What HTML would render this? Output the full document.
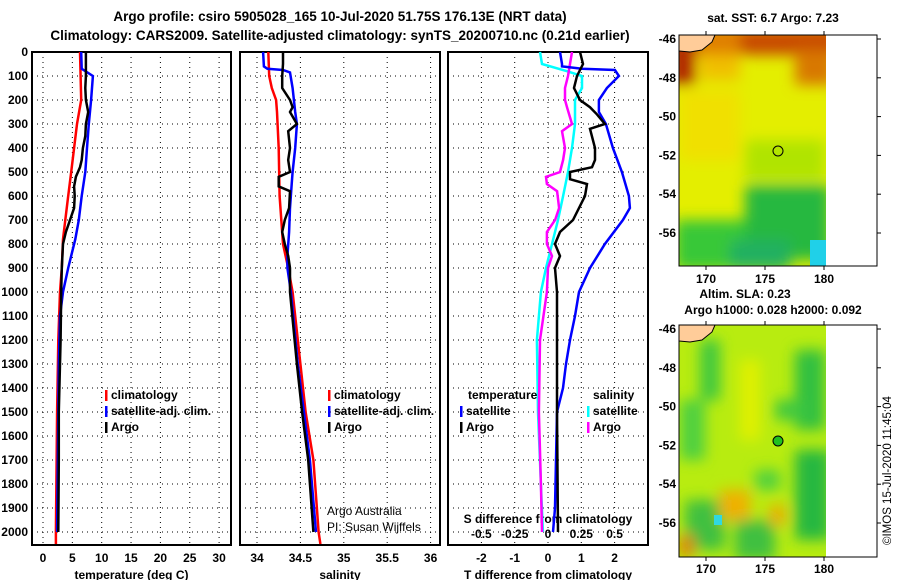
<!DOCTYPE html>
<html><head><meta charset="utf-8">
<style>
body{margin:0;background:#fff;}
svg{display:block;font-family:"Liberation Sans",sans-serif;}
.tk{font-size:12px;font-weight:bold;fill:#000;}
.tt{font-size:13.5px;font-weight:bold;fill:#000;}
</style></head>
<body>
<svg id="c" width="900" height="580" viewBox="0 0 900 580" xmlns="http://www.w3.org/2000/svg">
<defs>
<filter id="bl" x="-20%" y="-20%" width="140%" height="140%"><feGaussianBlur stdDeviation="7"/></filter>
<clipPath id="m1"><rect x="679" y="35" width="147" height="231"/></clipPath>
<clipPath id="m2"><rect x="679" y="325" width="147" height="232"/></clipPath>
</defs>
<text class="tt" x="340" y="21" text-anchor="middle">Argo profile: csiro 5905028_165 10-Jul-2020 51.75S 176.13E (NRT data)</text>
<text class="tt" x="340" y="40" text-anchor="middle">Climatology: CARS2009. Satellite-adjusted climatology: synTS_20200710.nc (0.21d earlier)</text>

<!-- top map -->
<g>
<text class="tk" x="773" y="22" text-anchor="middle">sat. SST: 6.7 Argo: 7.23</text>
<rect x="679" y="35" width="198" height="231" fill="#fff" stroke="#000" stroke-width="1"/>
<g clip-path="url(#m1)">
<rect x="679" y="35" width="147" height="231" fill="#e4ee00"/>
<g filter="url(#bl)">
<rect x="670" y="25" width="170" height="30" fill="#e08000"/>
<rect x="740" y="30" width="100" height="25" fill="#c84800"/>
<rect x="795" y="50" width="40" height="35" fill="#d87800"/>
<rect x="670" y="30" width="25" height="55" fill="#b02800"/>
<rect x="700" y="55" width="40" height="25" fill="#f0c000"/>
<rect x="680" y="90" width="60" height="70" fill="#f0e000"/>
<rect x="745" y="140" width="80" height="40" fill="#b0e400"/>
<rect x="745" y="185" width="85" height="75" fill="#28b840"/>
<rect x="675" y="220" width="70" height="50" fill="#38c838"/>
<rect x="730" y="240" width="60" height="30" fill="#20b060"/>
</g>
<rect x="810" y="240" width="20" height="30" fill="#20d0e8"/>
<path d="M679 35 H715 L712 42 L702 50 L690 52 L679 51 Z" fill="#ffcc99" stroke="#000" stroke-width="1"/>
</g>
<rect x="679" y="35" width="198" height="231" fill="none" stroke="#000" stroke-width="1"/>
<circle cx="778" cy="151" r="5" fill="none" stroke="#000" stroke-width="1"/>
</g>
<text class="tk" x="745" y="298" text-anchor="middle">Altim. SLA: 0.23</text>
<text class="tk" x="773" y="314" text-anchor="middle">Argo h1000: 0.028 h2000: 0.092</text>
<!-- bottom map -->
<g>
<rect x="679" y="325" width="198" height="232" fill="#fff" stroke="#000"/>
<g clip-path="url(#m2)">
<rect x="679" y="325" width="147" height="232" fill="#b8ec10"/>
<g filter="url(#bl)">
<rect x="700" y="340" width="20" height="60" fill="#40c840"/>
<rect x="795" y="350" width="30" height="80" fill="#30c040"/>
<rect x="680" y="400" width="25" height="60" fill="#50d040"/>
<rect x="775" y="400" width="30" height="20" fill="#40c840"/>
<rect x="795" y="450" width="35" height="90" fill="#28b840"/>
<rect x="755" y="470" width="25" height="20" fill="#50d040"/>
<rect x="685" y="500" width="40" height="50" fill="#40c040"/>
<rect x="735" y="520" width="40" height="40" fill="#40c040"/>
<rect x="720" y="490" width="30" height="30" fill="#f0b000"/>
<rect x="770" y="505" width="15" height="20" fill="#f0a800"/>
<rect x="679" y="535" width="15" height="22" fill="#e08000"/>
<rect x="740" y="360" width="20" height="80" fill="#e0f000"/>
</g>
<rect x="714" y="515" width="8" height="10" fill="#30d8e0"/>
<path d="M679 325 H715 L712 332 L702 340 L690 342 L679 341 Z" fill="#ffcc99" stroke="#000"/>
</g>
<rect x="679" y="325" width="198" height="232" fill="none" stroke="#000"/>
<circle cx="778" cy="441" r="5" fill="#20c020" stroke="#000" stroke-width="1"/>
</g>
<text x="891" y="545" transform="rotate(-90 891 545)" style="font-size:11.5px;fill:#000">©IMOS 15-Jul-2020 11:45:04</text>

<g id="g"></g>
</svg>
<script>
// ---- data ----
var depthTicks=[0,100,200,300,400,500,600,700,800,900,1000,1100,1200,1300,1400,1500,1600,1700,1800,1900,2000];
var tempTicks=[0,5,10,15,20,25,30];
var salTicks=[34,34.5,35,35.5,36];
var salTickLabels=["34","34.5","35","35.5","36"];
var tdTicks=[-2,-1,0,1,2];
var sdTicks=[-0.5,-0.25,0,0.25,0.5];
var sdTickLabels=["-0.5","-0.25","0","0.25","0.5"];
var lonTicks=[170,175,180];
var latTicks=[-46,-48,-50,-52,-54,-56];

var climTDepth=[0,200,300,400,500,600,700,780,900,1000,1200,1500,2000,2050];
var climT=[6.3,6.5,5.8,5.3,4.8,4.3,3.8,3.4,3.2,2.9,2.6,2.4,2.2,2.2];
var satTDepth=[0,70,100,200,300,400,500,600,700,780,900,1000,1100,1300,1500,2000];
var satT=[6.5,6.6,8.5,8.2,7.8,7.5,7.2,6.6,6.1,5.5,4.3,3.4,2.9,2.7,2.6,2.4];
var argoTDepth=[0,100,150,200,250,300,350,400,450,480,520,560,600,650,700,750,800,900,1000,1200,1500,1700,2000];
var argoT=[7.3,7.3,7.2,7.3,7.7,7.3,7.2,6.8,6.6,6.3,5.6,5.3,5.4,5.3,4.6,3.9,3.4,3.2,3.1,3.0,2.7,2.7,2.6];

var climSDepth=[0,100,150,200,250,400,600,800,900,1000,1300,1500,1700,2000,2050];
var climS=[34.13,34.14,34.17,34.22,34.23,34.25,34.26,34.30,34.36,34.41,34.50,34.56,34.65,34.71,34.73];
var satSDepth=[0,60,70,75,85,150,250,300,400,500,550,650,750,850,900,1000,1300,1500,1700,2000];
var satS=[34.07,34.08,34.12,34.30,34.38,34.41,34.44,34.46,34.44,34.41,34.40,34.38,34.37,34.35,34.35,34.39,34.47,34.54,34.61,34.68];
var argoSDepth=[0,50,100,150,200,230,250,300,330,400,450,500,520,560,580,650,700,750,800,850,900,1000,1300,1500,1700,2000];
var argoS=[34.30,34.30,34.29,34.29,34.38,34.41,34.38,34.46,34.36,34.38,34.36,34.38,34.25,34.25,34.38,34.37,34.32,34.29,34.32,34.36,34.38,34.38,34.46,34.52,34.59,34.65];

var satTdDepth=[0,50,60,70,75,100,150,200,250,300,400,500,600,650,700,800,900,1000,1100,1200,1300,1400,1500,1900,2000];
var satTd=[0.36,0.42,0.42,1.02,2.01,2.13,1.77,1.53,1.53,1.74,1.95,2.22,2.43,2.46,2.25,1.71,1.26,0.93,0.81,0.66,0.54,0.45,0.27,0.21,0.15];
var argoTdDepth=[0,50,100,150,200,230,260,300,320,400,450,480,500,530,550,600,700,750,800,850,900,1000,1500,2000];
var argoTd=[0.96,1.05,0.87,0.78,0.96,1.26,1.47,1.71,1.26,1.41,1.41,1.32,0.66,0.66,1.17,1.11,0.75,0.36,0.21,0.36,0.21,0.27,0.27,0.30];
var satSdDepth=[0,50,80,100,150,200,300,400,500,600,700,800,900,1000,1200,1500,1800,2000];
var satSd=[-0.06,-0.045,0.143,0.255,0.255,0.203,0.203,0.18,0.15,0.113,0.075,0.03,-0.015,-0.053,-0.083,-0.075,-0.053,-0.038];
var argoSdDepth=[0,100,150,200,230,300,330,400,450,500,520,550,580,650,700,750,800,850,900,1000,1200,1500,1800,2000];
var argoSd=[0.18,0.15,0.128,0.128,0.143,0.18,0.105,0.128,0.113,0.09,-0.015,-0.008,0.068,0.083,0.053,-0.008,-0.008,0.03,0,-0.008,-0.06,-0.068,-0.053,-0.045];

// ---- scales ----
var TOP=52,BOT=545;
function yD(d){return TOP+d*0.24;}
function xT(t){return 43+t*5.87;}
function xS(s){return 257+(s-34)*86.8;}
function xTd(t){return 548+t*33.3;}
function xSd(s){return 548+s*133.2;}
function lonX(l){return 706+(l-170)*11.8;}
function latY1(l){return 39+(-46-l)*19.4;}
function latY2(l){return 329+(-46-l)*19.4;}

var NS="http://www.w3.org/2000/svg";
var G=document.getElementById('g');
function mk(tag,attrs,parent){var e=document.createElementNS(NS,tag);for(var k in attrs)e.setAttribute(k,attrs[k]);(parent||G).appendChild(e);return e;}
function txt(x,y,s,anchor,cls){var e=mk('text',{x:x,y:y,'text-anchor':anchor||'middle','class':cls||'tk'});e.textContent=s;return e;}

var panels=[{x0:32,x1:231,ticks:tempTicks,labels:tempTicks.map(String),fx:xT,title:"temperature (deg C)",name:"temperature"},
 {x0:240,x1:440,ticks:salTicks,labels:salTickLabels,fx:xS,title:"salinity",name:"salinity"},
 {x0:448,x1:648,ticks:tdTicks,labels:tdTicks.map(String),fx:xTd,title:"T difference from climatology",name:"difference"}];
panels.forEach(function(p){
  var r=mk('rect',{x:p.x0,y:TOP,width:p.x1-p.x0,height:BOT-TOP,fill:'none',stroke:'#000','stroke-width':2});
  
  
  depthTicks.forEach(function(d){
    var l=mk('line',{x1:p.x0,x2:p.x1,y1:yD(d),y2:yD(d),stroke:'#000','stroke-width':1,'stroke-dasharray':'1 4'});
    
    
  });
  p.ticks.forEach(function(t,i){
    var x=p.fx(t);
    var l=mk('line',{x1:x,x2:x,y1:TOP,y2:BOT,stroke:'#000','stroke-width':1,'stroke-dasharray':'1 4'});
    
    
    var e=txt(x,562,p.labels[i]);
    
    
  });
  var e=txt((p.x0+p.x1)/2,579,p.title);
  
  
});
depthTicks.forEach(function(d){
  var e=txt(28,yD(d)+4,String(d),'end');
  
  
});
var sdt=txt(548,523,"S difference from climatology");


sdTicks.forEach(function(s,i){
  var e=txt(xSd(s),538,sdTickLabels[i]);
  
  
});

function line(depths,vals,fx,color,name){
  var pts=depths.map(function(d,i){return fx(vals[i]).toFixed(1)+','+yD(d).toFixed(1);}).join(' ');
  var pl=mk('polyline',{points:pts,fill:'none',stroke:color,'stroke-width':2.5,'stroke-linejoin':'miter'});
  
  
}
line(climTDepth,climT,xT,'#ff0000','temp-climatology-line');
line(satTDepth,satT,xT,'#0000ff','temp-satellite-line');
line(argoTDepth,argoT,xT,'#000000','temp-argo-line');
line(climSDepth,climS,xS,'#ff0000','sal-climatology-line');
line(satSDepth,satS,xS,'#0000ff','sal-satellite-line');
line(argoSDepth,argoS,xS,'#000000','sal-argo-line');
line(satSdDepth,satSd,xSd,'#00ffff','sdiff-satellite-line');
line(argoSdDepth,argoSd,xSd,'#ff00ff','sdiff-argo-line');
line(satTdDepth,satTd,xTd,'#0000ff','tdiff-satellite-line');
line(argoTdDepth,argoTd,xTd,'#000000','tdiff-argo-line');

function leg(x,y,color,label,name){
  var b=mk('rect',{x:x,y:y-9,width:2.5,height:11,fill:color});
  
  
  var e=txt(x+6,y,label,'start');
  
  
}
leg(105,399,'#ff0000','climatology','legend-temp-climatology');
leg(105,415,'#0000ff','satellite-adj. clim.','legend-temp-satellite');
leg(105,431,'#000000','Argo','legend-temp-argo');
leg(328,399,'#ff0000','climatology','legend-sal-climatology');
leg(328,415,'#0000ff','satellite-adj. clim.','legend-sal-satellite');
leg(328,431,'#000000','Argo','legend-sal-argo');
var lt=txt(468,399,'temperature','start');
var ls=txt(593,399,'salinity','start');
leg(460,415,'#0000ff','satellite','legend-tdiff-satellite');
leg(460,431,'#000000','Argo','legend-tdiff-argo');
leg(587,415,'#00ffff','satellite','legend-sdiff-satellite');
leg(587,431,'#ff00ff','Argo','legend-sdiff-argo');
var c1=txt(327,515,'Argo Australia','start');c1.setAttribute('style','font-weight:normal;font-size:12px');

var c2=txt(327,531,'PI: Susan Wijffels','start');c2.setAttribute('style','font-weight:normal;font-size:12px');


[[35,266,latY1,283],[325,557,latY2,573]].forEach(function(m){
  lonTicks.forEach(function(l){
    var x=lonX(l);
    mk('line',{x1:x,x2:x,y1:m[0],y2:m[0]-4,stroke:'#000'});
    mk('line',{x1:x,x2:x,y1:m[1],y2:m[1]+4,stroke:'#000'});
    var e=txt(x,m[3],String(l));
    
    
  });
  latTicks.forEach(function(l){
    var y=m[2](l);
    mk('line',{x1:877,x2:881,y1:y,y2:y,stroke:'#000'});
    var e=txt(676,y+4,String(l),'end');
    
    
  });
});
</script>
</body></html>
